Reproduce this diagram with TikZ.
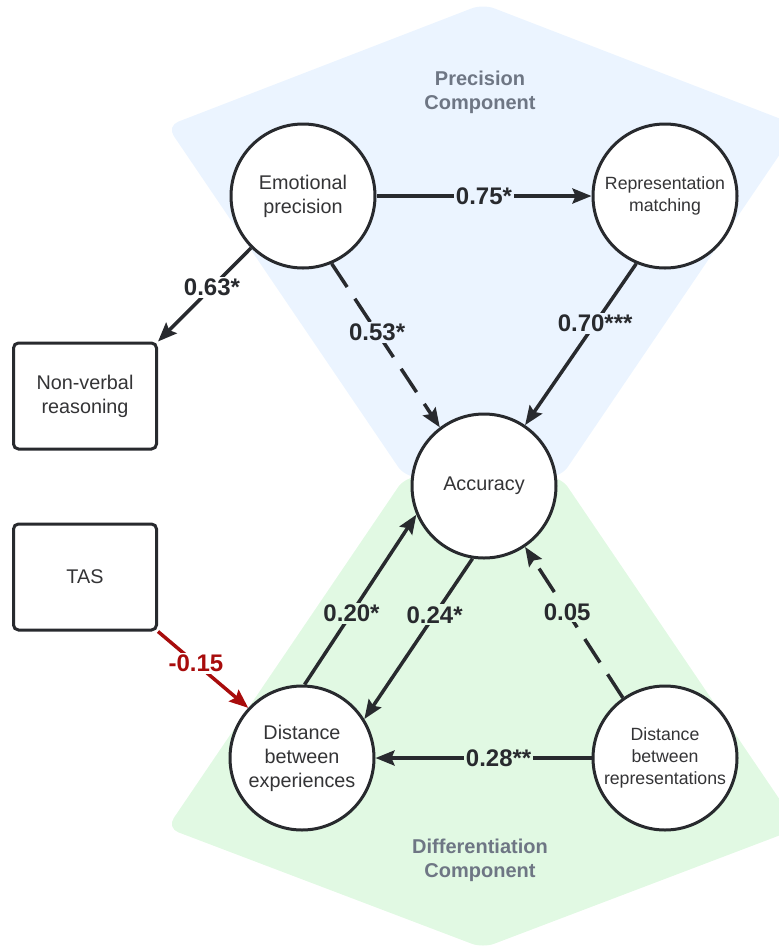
\documentclass[tikz,border=0pt]{standalone}
\usepackage{fontspec}
\setmainfont{Liberation Sans}
\usetikzlibrary{arrows.meta}
\definecolor{ink}{RGB}{40,42,46}
\definecolor{txt}{RGB}{52,52,54}
\definecolor{compgrey}{RGB}{110,118,132}
\definecolor{precblue}{RGB}{235,244,255}
\definecolor{diffgreen}{RGB}{225,249,227}
\definecolor{negred}{RGB}{168,12,12}
\tikzset{every picture/.style={line width=3pt}}

\begin{document}
\begin{tikzpicture}[x=1pt, y=-1pt, >={Stealth[length=19pt, width=15pt, inset=3pt]},
    latent/.style={circle, draw=ink, fill=white, minimum size=144pt, inner sep=0pt, align=center, text=txt, font=\fontsize{19.8}{24}\selectfont},
    tight/.style={font=\fontsize{17.7}{22}\selectfont},
    measure/.style={rectangle, rounded corners=5pt, draw=ink, fill=white, minimum width=143pt, minimum height=106pt, align=center, text=txt, font=\fontsize{19.8}{24}\selectfont},
    link/.style={draw=ink, line width=3.5pt, ->},
    coef/.style={font=\bfseries\fontsize{24}{28}\selectfont, text=ink, inner sep=2pt},
    comp/.style={font=\bfseries\fontsize{20}{24}\selectfont, text=compgrey, align=center}]
        \useasboundingbox (0,0) rectangle (779,946);
        \fill[precblue, rounded corners=12pt] (483,4) -- (799,126) -- (561,477) -- (405,477) -- (167,126) -- cycle;
        \fill[diffgreen, rounded corners=12pt] (483,948) -- (799,828) -- (561,477) -- (405,477) -- (167,828) -- cycle;
        \node[comp] (prec) at (480,92)  {Precision\\Component};
        \node[comp] (diff) at (480,860) {Differentiation\\Component};
        \node[latent] (ep)  at (303,196) {Emotional\\precision};
        \node[latent, tight] (rm) at (665,196) {Representation\\matching};
        \node[latent] (acc) at (484,486) {Accuracy};
        \node[latent] (de)  at (302,758) {Distance\\between\\experiences};
        \node[latent, tight] (dr) at (665,758) {Distance\\between\\representations};
        \node[measure] (nvr) at (85,396) {Non-verbal\\reasoning};
        \node[measure] (tas) at (85,577) {TAS};
        \draw[link] (ep.east) -- node[coef, fill=precblue] {0.75*} (rm.west);
        \draw[link] (ep.225) -- node[coef, fill=white, pos=0.42] {0.63*} (nvr.north east);
        \draw[link, dash pattern=on 28pt off 14pt] (ep.293) -- node[coef, fill=precblue, pos=0.42] {0.53*} (acc.127);
        \draw[link] (rm.247) -- node[coef, fill=precblue, pos=0.37] {0.70***} (acc.56);
        \draw[link] (de.88) -- node[coef, fill=diffgreen, pos=0.42] {0.20*} (acc.203);
        \draw[link] (acc.261) -- node[coef, fill=diffgreen, pos=0.35] {0.24*} (de.32);
        \draw[link, dash pattern=on 28pt off 14pt] (dr.125) -- node[coef, fill=diffgreen, pos=0.57] {0.05} (acc.304);
        \draw[link] (dr.west) -- node[coef, fill=diffgreen, pos=0.43] {0.28**} (de.east);
        \draw[link, draw=negred] (tas.south east) -- node[coef, fill=white, text=negred, pos=0.42] {-0.15} (de.137);
    \end{tikzpicture}
\end{document}
